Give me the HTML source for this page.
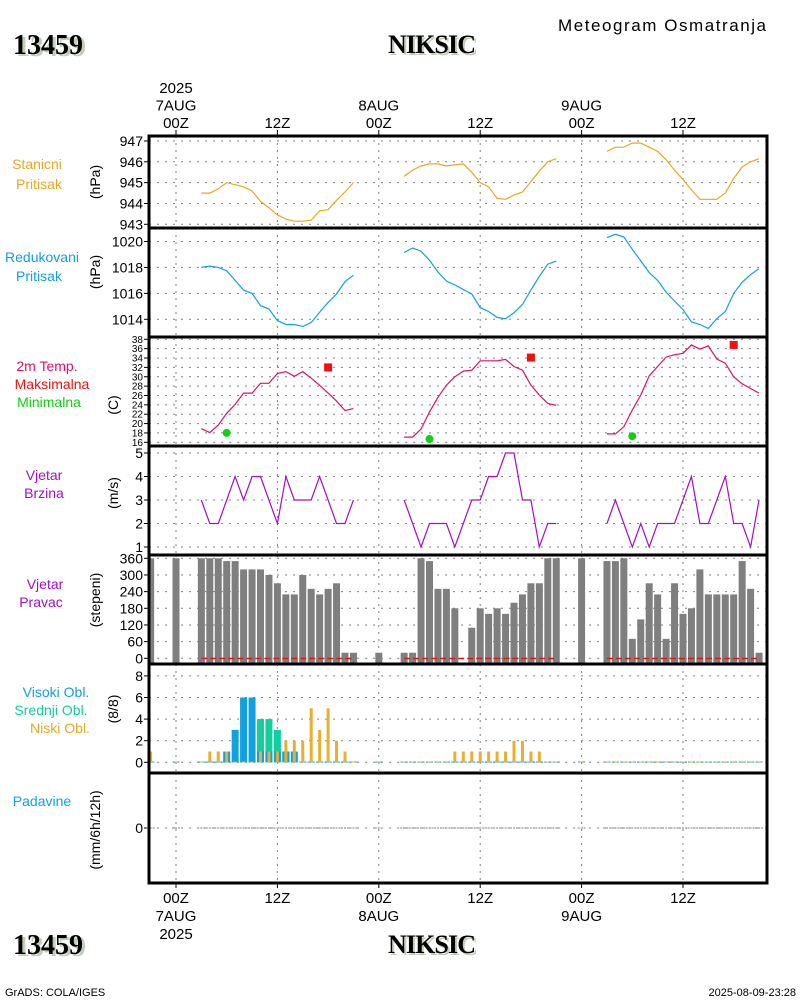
<!DOCTYPE html>
<html><head><meta charset="utf-8"><style>
html,body{margin:0;padding:0;background:#fff;}
svg{display:block;}
text{font-family:"Liberation Sans",sans-serif;}
.t{font-size:14px;fill:#000;}
.big{font-family:"Liberation Serif",serif;font-weight:bold;}
</style></head><body>
<svg id="chart" width="800" height="1000" viewBox="0 0 800 1000" xmlns="http://www.w3.org/2000/svg">
<rect width="800" height="1000" fill="#fff"/>
<g id="titles">
<text x="16" y="56" class="big" font-size="28" fill="#c3cdbb">13459</text>
<text x="13" y="54" class="big" font-size="28" fill="#000">13459</text>
<text x="434" y="55" class="big" font-size="26" fill="#c3cdbb" text-anchor="middle" textLength="88">NIKSIC</text>
<text x="432" y="53" class="big" font-size="26" fill="#000" text-anchor="middle" textLength="88">NIKSIC</text>
<text x="558" y="31" font-size="17" fill="#000" textLength="208">Meteogram Osmatranja</text>
<text x="16" y="956" class="big" font-size="28" fill="#c3cdbb">13459</text>
<text x="13" y="954" class="big" font-size="28" fill="#000">13459</text>
<text x="434" y="955" class="big" font-size="26" fill="#c3cdbb" text-anchor="middle" textLength="88">NIKSIC</text>
<text x="432" y="953" class="big" font-size="26" fill="#000" text-anchor="middle" textLength="88">NIKSIC</text>
<text x="5" y="996" font-size="11" fill="#000">GrADS: COLA/IGES</text>
<text x="796" y="996" font-size="11" fill="#000" text-anchor="end">2025-08-09-23:28</text>
</g>
<g id="labels" font-size="14" text-anchor="middle">
<text x="37" y="169" fill="#e8a820">Stanicni</text>
<text x="39" y="189" fill="#e8a820">Pritisak</text>
<text x="42" y="262" fill="#12a0e0">Redukovani</text>
<text x="39" y="281" fill="#12a0e0">Pritisak</text>
<text x="47" y="371" fill="#e0106a">2m Temp.</text>
<text x="52" y="389" fill="#f01010">Maksimalna</text>
<text x="49" y="407" fill="#10d010">Minimalna</text>
<text x="44" y="480" fill="#a010c8">Vjetar</text>
<text x="44" y="498" fill="#a010c8">Brzina</text>
<text x="45" y="589" fill="#a010c8">Vjetar</text>
<text x="41" y="607" fill="#a010c8">Pravac</text>
<text x="56" y="697" fill="#12a0e0">Visoki Obl.</text>
<text x="51" y="715" fill="#10d0a0">Srednji Obl.</text>
<text x="60" y="733" fill="#e8a820">Niski Obl.</text>
<text x="42" y="806" fill="#12a0e0">Padavine</text>
<text transform="translate(100,182) rotate(-90)">(hPa)</text>
<text transform="translate(100,272) rotate(-90)">(hPa)</text>
<text transform="translate(118,405) rotate(-90)">(C)</text>
<text transform="translate(118,493) rotate(-90)">(m/s)</text>
<text transform="translate(100,600) rotate(-90)">(stepeni)</text>
<text transform="translate(118,709) rotate(-90)">(8/8)</text>
<text transform="translate(100,830) rotate(-90)">(mm/6h/12h)</text>
</g>
<g id="plot"></g>
</svg>
<script>
// ---- data ----
const timeTicks = [0, 12, 24, 36, 48, 60];
const topTickLines = [["2025","7AUG","00Z"],["12Z"],["8AUG","00Z"],["12Z"],["9AUG","00Z"],["12Z"]];
const bottomTickLines = [["00Z","7AUG","2025"],["12Z"],["00Z","8AUG"],["12Z"],["00Z","9AUG"],["12Z"]];
const lineHours = [3,4,5,6,7,8,9,10,11,12,13,14,15,16,17,18,19,20,21,
  27,28,29,30,31,32,33,34,35,36,37,38,39,40,41,42,43,44,45,
  51,52,53,54,55,56,57,58,59,60,61,62,63,64,65,66,67,68,69];
const stationP = [944.5,944.5,944.7,945.0,944.9,944.8,944.6,944.1,943.8,943.45,943.25,943.15,943.15,943.2,943.65,943.7,944.15,944.55,945.0,
  945.3,945.6,945.8,945.9,945.9,945.8,945.85,945.9,945.5,945.0,944.8,944.25,944.2,944.4,944.55,945.05,945.55,946.0,946.15,
  946.5,946.7,946.7,946.9,946.9,946.7,946.5,946.1,945.6,945.15,944.65,944.2,944.2,944.2,944.5,945.2,945.75,946.0,946.15];
const reducedP = [1018.0,1018.1,1018.0,1017.75,1017.0,1016.25,1016.0,1015.05,1014.8,1013.9,1013.6,1013.6,1013.45,1013.75,1014.55,1015.3,1015.95,1016.9,1017.4,
  1019.15,1019.5,1019.25,1018.55,1017.65,1016.95,1016.65,1016.3,1015.95,1014.9,1014.6,1014.15,1014.05,1014.5,1015.15,1016.25,1017.3,1018.25,1018.5,
  1020.3,1020.55,1020.35,1019.4,1018.5,1017.6,1017.0,1016.1,1015.4,1014.75,1013.8,1013.6,1013.3,1014.05,1014.6,1016.0,1016.85,1017.45,1017.9];
const temp2m = [18.9,18.1,19.7,22.2,24.1,26.5,26.5,28.6,28.6,30.7,31.1,30.1,31.1,29.7,28.2,26.5,24.8,22.8,23.2,
  17.1,17.1,18.8,22.5,25.6,28.2,30.0,31.2,31.4,33.4,33.4,33.4,33.7,32.2,31.4,28.2,26.1,24.3,23.9,
  17.8,17.8,19.3,22.9,26.1,30.2,32.2,34.2,34.7,35.0,36.8,35.9,36.6,33.8,32.9,30.0,28.5,27.5,26.5];
const windSpeed = [3,2,2,3,4,3,4,4,3,2,4,3,3,3,4,3,2,2,3,
  3,2,1,2,2,2,1,2,3,3,4,4,5,5,3,3,1,2,2,
  2,3,2,1,2,1,2,2,2,3,4,2,2,3,4,2,2,1,3];
const maxHours = [18, 42, 66];
const maxTemps = [32, 34.1, 36.8];
const minHours = [6, 30, 54];
const minTemps = [18, 16.7, 17.3];
const obsHours = [-3,0,3,4,5,6,7,8,9,10,11,12,13,14,15,16,17,18,19,20,21,
  24,27,28,29,30,31,32,33,34,35,36,37,38,39,40,41,42,43,44,45,
  48,51,52,53,54,55,56,57,58,59,60,61,62,63,64,65,66,67,68,69];
const windDir = [360,360,360,360,360,350,350,320,320,320,300,270,230,230,300,250,230,250,270,20,20,
  20,20,20,360,350,250,250,180,0,110,180,160,180,160,200,230,270,270,360,360,
  360,350,350,360,70,140,270,230,70,270,160,180,320,230,230,230,230,350,250,20];
const cloudHigh = [0,0,0,0,0,1,3,6,6,1,1,1,1,1,0,0,0,0,0,0,0,
  0,0,0,0,0,0,0,0,0,0,0,0,0,0,0,0,0,0,0,0,
  0,0,0,0,0,0,0,0,0,0,0,0,0,0,0,0,0,0,0,0];
const cloudMid = [0,0,0,0,0,0,0,0,0,4,4,3,1,0,0,0,0,0,0,0,0,
  0,0,0,0,0,0,0,0,0,0,0,0,0,0,0,0,0,0,0,0,
  0,0,0,0,0,0,0,0,0,0,0,0,0,0,0,0,0,0,0,0];
const cloudLow = [1,0,0,1,1,1,0,0,0,1,1,1,2,2,2,5,3,5,2,1,0,
  0,0,0,0,0,0,0,1,1,1,1,1,1,1,2,2,1,1,0,0,
  0,0,0,0,0,0,0,0,0,0,0,0,0,0,0,0,0,0,0,0];
const precip = [0,0,0,0,0,0,0,0,0,0,0,0,0,0,0,0,0,0,0,0,0,
  0,0,0,0,0,0,0,0,0,0,0,0,0,0,0,0,0,0,0,0,
  0,0,0,0,0,0,0,0,0,0,0,0,0,0,0,0,0,0,0,0];
const stationTicks = [943,944,945,946,947];
const reducedTicks = [1014,1016,1018,1020];
const tempTicks = [16,18,20,22,24,26,28,30,32,34,36,38];
const speedTicks = [1,2,3,4,5];
const dirTicks = [0,60,120,180,240,300,360];
const cloudTicks = [0,2,4,6,8];
const precipTicks = [0];

// ---- axes ----
const L = 149, R = 767;
const X = h => 176 + h * 8.45;
const yStation = p => 224.3 - (p - 943) * 20.83;
const yReduced = p => 319.3 - (p - 1014) * 12.97;
const yTemp = t => 442.3 - (t - 16) * 4.682;
const ySpeed = v => 547 - (v - 1) * 23.5;
const yDir = d => 658.3 - d * 0.2778;
const yCloud = c => 762.3 - c * 10.8;
const yPrecip = v => 828 - v * 10;
const panels = [136, 228, 337, 446, 555, 664, 773, 883];

const NS = "http://www.w3.org/2000/svg";
const plot = document.getElementById('plot');
function el(tag, attrs, parent) {
  const e = document.createElementNS(NS, tag);
  for (const k in attrs) e.setAttribute(k, attrs[k]);
  (parent || plot).appendChild(e);
  return e;
}

const grid = el('g', {});


for (let p = 0; p < 7; p++) {
  for (const h of timeTicks) {
    const gl = el('line', {x1: X(h), x2: X(h), y1: panels[p], y2: panels[p + 1], stroke: '#808080', 'stroke-dasharray': '2,5', 'stroke-width': 1}, grid);
    
    
  }
}
function yAxis(ticks, fy, name, fs) {
  const g = el('g', {});
  
  
  for (const t of ticks) {
    const y = fy(t);
    const gl = el('line', {x1: L, x2: R, y1: y, y2: y, stroke: '#808080', 'stroke-dasharray': '2,6'}, g);
    
    
    el('line', {x1: L - 5, x2: L, y1: y, y2: y, stroke: '#000', 'stroke-width': 1}, g);
    const tx = el('text', {x: L - 6, y: y + (fs ? 3.5 : 5), 'font-size': fs || 14, 'text-anchor': 'end', fill: '#000'}, g);
    
    
    tx.textContent = t;
  }
}
yAxis(stationTicks, yStation, 'station-pressure-y-axis');
yAxis(reducedTicks, yReduced, 'reduced-pressure-y-axis');
yAxis(tempTicks, yTemp, 'temperature-y-axis', 10);
yAxis(speedTicks, ySpeed, 'wind-speed-y-axis');
yAxis(dirTicks, yDir, 'wind-direction-y-axis');
yAxis(cloudTicks, yCloud, 'cloud-y-axis');
yAxis(precipTicks, yPrecip, 'precip-y-axis');

const tl = el('g', {'font-size': 15, 'text-anchor': 'middle', fill: '#000'});


timeTicks.forEach((h, i) => {
  const lines = topTickLines[i];
  lines.forEach((s, j) => {
    const t = el('text', {x: X(h), y: 128 - (lines.length - 1 - j) * 17.5}, tl);
    
    
    t.textContent = s;
  });
  el('line', {x1: X(h), x2: X(h), y1: 130, y2: 136, stroke: '#000'}, tl);
  bottomTickLines[i].forEach((s, j) => {
    const t = el('text', {x: X(h), y: 903 + j * 18}, tl);
    
    
    t.textContent = s;
  });
  el('line', {x1: X(h), x2: X(h), y1: 883, y2: 888, stroke: '#000'}, tl);
});

function series(hours, vals, fy, color, name) {
  const g = el('g', {});
  
  
  let pts = [];
  const flush = () => { if (pts.length) { el('polyline', {points: pts.join(' '), fill: 'none', stroke: color, 'stroke-width': 1.2}, g); } pts = []; };
  for (let i = 0; i < hours.length; i++) {
    if (i > 0 && hours[i] - hours[i - 1] > 1) flush();
    pts.push(X(hours[i]).toFixed(1) + ',' + fy(vals[i]).toFixed(1));
  }
  flush();
}
series(lineHours, stationP, yStation, '#e8a820', 'station-pressure-line');
series(lineHours, reducedP, yReduced, '#12a0e0', 'reduced-pressure-line');
series(lineHours, temp2m, yTemp, '#e0106a', 'temperature-line');
series(lineHours, windSpeed, ySpeed, '#a010c8', 'wind-speed-line');

maxHours.forEach((h, i) => {
  const r = el('rect', {x: X(h) - 4, y: yTemp(maxTemps[i]) - 4, width: 8, height: 8, fill: '#f01010'});
  
  
});
minHours.forEach((h, i) => {
  const c = el('circle', {cx: X(h), cy: yTemp(minTemps[i]), r: 4, fill: '#10d010'});
  
  
});

obsHours.forEach((h, i) => {
  const y = Math.max(yDir(windDir[i]), 556.5);
  if (windDir[i] > 0) {
    const r = el('rect', {x: Math.max(X(h) - 3.5, L + 1), y: y, width: X(h) - 3.5 < L + 1 ? X(h) + 3.5 - L - 1 : 7, height: 663 - y, fill: '#7f7f7f'});
    
    
  }
});
[[3, 21], [27, 45], [51, 69]].forEach(([a, b]) => {
  const l = el('line', {x1: X(a), x2: X(b), y1: 658.5, y2: 658.5, stroke: '#f01010', 'stroke-width': 1.5, 'stroke-dasharray': '6,3'});
  
  
});

function cloudBar(h, v, w, color, name) {
  const x0 = Math.max(X(h) - w / 2, L + 1);
  const wd = X(h) + w / 2 - x0;
  if (v > 0) {
    const r = el('rect', {x: x0, y: yCloud(v), width: wd, height: 762.3 - yCloud(v), fill: color});
    
    
  } else {
    const r = el('rect', {x: x0, y: 761.5, width: wd, height: 1, fill: color});
    
    
  }
}
obsHours.forEach((h, i) => {
  cloudBar(h, cloudMid[i], 7, '#10d0a0', 'mid-cloud-bar');
  cloudBar(h, cloudHigh[i], 7, '#12a0e0', 'high-cloud-bar');
  cloudBar(h, cloudLow[i], 3, '#e8b030', 'low-cloud-bar');
});

obsHours.forEach((h, i) => {
  const y = yPrecip(precip[i]);
  const l = el('line', {x1: X(h) - 4, x2: X(h) + 4, y1: y, y2: y, stroke: '#808080', 'stroke-width': 1, 'stroke-dasharray': '2,1'});
  
  
});

const fr = el('g', {});


el('rect', {x: L, y: 136, width: R - L, height: 883 - 136, fill: 'none', stroke: '#000', 'stroke-width': 3}, fr);
for (let p = 1; p < 7; p++) el('line', {x1: L, x2: R, y1: panels[p], y2: panels[p], stroke: '#000', 'stroke-width': 3}, fr);
</script>
</body></html>
